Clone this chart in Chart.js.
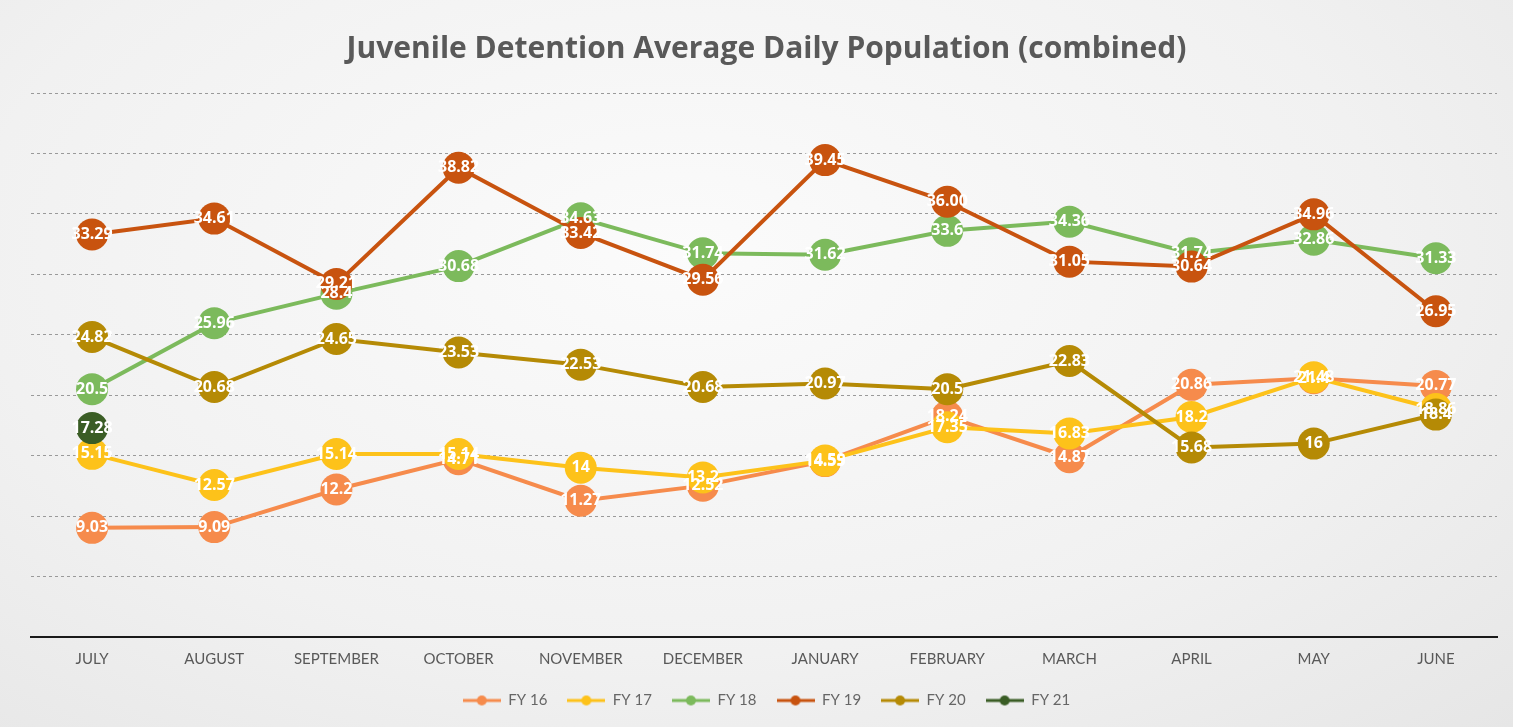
<!DOCTYPE html>
<html>
<head>
<meta charset="utf-8">
<script src="https://cdn.jsdelivr.net/npm/chart.js@4.4.0/dist/chart.umd.min.js"></script>
<style>
  html, body { margin: 0; padding: 0; }
  body {
    width: 1513px; height: 727px; overflow: hidden;
    background: radial-gradient(ellipse at 45% 35%, #fbfbfb 0%, #f1f1f1 60%, #e6e6e6 100%);
  }
  #wrap { position: relative; width: 1513px; height: 727px; }
</style>
</head>
<body>
<div id="wrap"><canvas id="adpChart" width="1513" height="727"></canvas></div>
<script>
// DATA
const months = ['JULY', 'AUGUST', 'SEPTEMBER', 'OCTOBER', 'NOVEMBER', 'DECEMBER',
                'JANUARY', 'FEBRUARY', 'MARCH', 'APRIL', 'MAY', 'JUNE'];
const seriesNames = ['FY 16', 'FY 17', 'FY 18', 'FY 19', 'FY 20', 'FY 21'];
const fy16 = [9.03, 9.09, 12.2, 14.71, 11.27, 12.52, 14.55, 18.24, 14.87, 20.86, 21.4, 20.77];
const fy17 = [15.15, 12.57, 15.14, 15.14, 14, 13.2, 14.59, 17.35, 16.83, 18.2, 21.48, 18.86];
const fy18 = [20.5, 25.96, 28.4, 30.68, 34.63, 31.74, 31.62, 33.6, 34.36, 31.74, 32.86, 31.33];
const fy19 = [33.29, 34.61, 29.21, 38.82, 33.42, 29.56, 39.45, 36.00, 31.05, 30.64, 34.96, 26.95];
const fy20 = [24.82, 20.68, 24.65, 23.53, 22.53, 20.68, 20.97, 20.5, 22.83, 15.68, 16, 18.4];
const fy21 = [17.28, null, null, null, null, null, null, null, null, null, null, null];
const yTicks = [0, 5, 10, 15, 20, 25, 30, 35, 40, 45];

const colors = ['#f68b4c', '#fdc21a', '#7cba5c', '#c8530f', '#b58a05', '#3a5d25'];
const allData = [fy16, fy17, fy18, fy19, fy20, fy21];

// legend marker: line with a dot in the middle
function legendMarker(color){
  const c = document.createElement('canvas');
  c.width = 38; c.height = 12;
  const g = c.getContext('2d');
  g.strokeStyle = color; g.lineWidth = 3;
  g.beginPath(); g.moveTo(0, 6); g.lineTo(38, 6); g.stroke();
  g.fillStyle = color;
  g.beginPath(); g.arc(19, 6, 5, 0, Math.PI * 2); g.fill();
  return c;
}

// white value labels centred on each point, later series on top
const pointLabels = {
  id: 'pointLabels',
  afterDatasetsDraw(chart){
    const ctx = chart.ctx;
    ctx.save();
    ctx.font = 'bold 16px "Open Sans", sans-serif';
    ctx.fillStyle = '#ffffff';
    ctx.textAlign = 'center';
    ctx.textBaseline = 'middle';
    chart.data.datasets.forEach((ds, i) => {
      const meta = chart.getDatasetMeta(i);
      meta.data.forEach((pt, j) => {
        const v = ds.data[j];
        if(v === null) return;
        let txt = String(v);
        if(i === 3 && v === 36) txt = '36.00';
        ctx.fillText(txt, pt.x, pt.y);
      });
    });
    ctx.restore();
  }
};

const ctx = document.getElementById('adpChart').getContext('2d');
new Chart(ctx, {
  type: 'line',
  data: {
    labels: months,
    datasets: allData.map((d, i) => ({
      label: seriesNames[i],
      data: d,
      borderColor: colors[i],
      backgroundColor: colors[i],
      pointBackgroundColor: colors[i],
      pointBorderWidth: 0,
      pointRadius: 16,
      pointHoverRadius: 16,
      borderWidth: 4,
      tension: 0,
      order: allData.length - i
    }))
  },
  options: {
    responsive: false,
    animation: false,
    layout: { padding: { left: 31, right: 11, top: 10, bottom: 9 } },
    plugins: {
      title: {
        display: true,
        text: 'Juvenile Detention Average Daily Population (combined)',
        color: '#595959',
        font: { family: '"Open Sans", sans-serif', size: 30, weight: 'bold' },
        padding: { top: 21, bottom: 26 }
      },
      legend: {
        position: 'bottom',
        labels: {
          color: '#666666',
          font: { family: 'Lato, sans-serif', size: 15 },
          usePointStyle: true,
          pointStyleWidth: 38,
          padding: 20,
          sort: (a, b) => a.datasetIndex - b.datasetIndex,
          generateLabels(chart){
            return chart.data.datasets.map((ds, i) => ({
              text: ds.label,
              fillStyle: colors[i],
              strokeStyle: colors[i],
              pointStyle: legendMarker(colors[i]),
              datasetIndex: i,
              fontColor: '#666666',
              hidden: false
            }));
          }
        }
      },
      tooltip: { enabled: false }
    },
    scales: {
      x: {
        offset: true,
        grid: { display: false },
        border: { display: true, color: '#1a1a1a', width: 2 },
        ticks: {
          color: '#595959',
          font: { family: 'Lato, sans-serif', size: 15 },
          padding: 5,
          maxRotation: 0
        }
      },
      y: {
        min: 0,
        max: 45,
        afterBuildTicks(scale){
          scale.ticks = yTicks.map(v => ({ value: v }));
        },
        ticks: { display: false },
        border: { display: false, dash: [3, 3] },
        grid: { color: '#9a9a9a', lineWidth: 1, drawTicks: false }
      }
    }
  },
  plugins: [pointLabels]
});
</script>
</body>
</html>
